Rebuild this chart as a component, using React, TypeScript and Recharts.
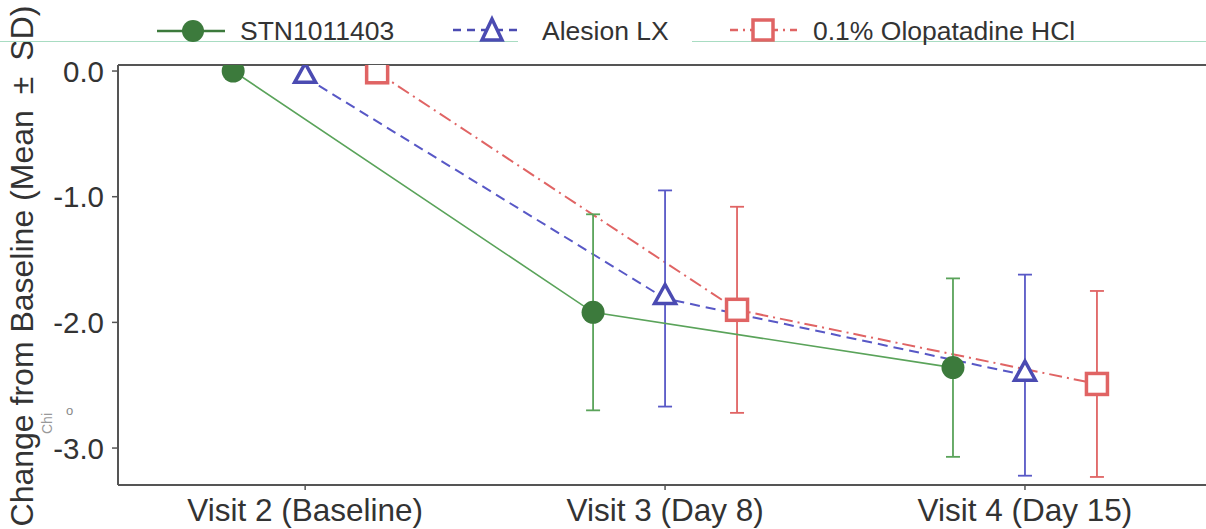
import { LineChart, Line, XAxis, YAxis, ErrorBar, ReferenceLine } from 'recharts';

const FONT = '"Liberation Sans", Arial, Helvetica, sans-serif';

// categories and dodge offsets
const visits = ['Visit 2 (Baseline)', 'Visit 3 (Day 8)', 'Visit 4 (Day 15)'];
const visitPos = [1, 2, 3];

// mean change from baseline and SD
const stnMean = [0, -1.92, -2.36];
const stnSd = [null, 0.78, 0.71];
const alesionMean = [-0.05, -1.81, -2.42];
const alesionSd = [null, 0.86, 0.8];
const olopMean = [-0.01, -1.9, -2.49];
const olopSd = [null, 0.82, 0.74];

const yTicks = [0, -1, -2, -3];

const toRows = (mean: number[], sd: (number | null)[], offset: number) =>
    visitPos.map((v, i) => ({ x: v + offset, y: mean[i], err: sd[i] }));

const stnData = toRows(stnMean, stnSd, -0.2);
const alesionData = toRows(alesionMean, alesionSd, 0);
const olopData = toRows(olopMean, olopSd, 0.2);

const GREEN = '#3c7a3c';
const GREEN_LINE = '#5aa35a';
const BLUE = '#4b4bb2';
const BLUE_LINE = '#5858c6';
const RED = '#e06464';

const CircleDot = (p: any) => (
    <circle key={`c${p.index}`} cx={p.cx} cy={p.cy} r={11.5} fill={GREEN} stroke="none" />
);

const TriDot = (p: any) => (
    <path
        key={`t${p.index}`}
        d={`M${p.cx},${p.cy - 14} L${p.cx - 10.5},${p.cy + 5} L${p.cx + 10.5},${p.cy + 5} Z`}
        fill="#fff"
        stroke={BLUE}
        strokeWidth={3.5}
        strokeLinejoin="miter"
    />
);

const SquareDot = (p: any) => (
    <rect
        key={`s${p.index}`}
        x={p.cx - 10.5}
        y={p.cy - 10.5}
        width={21}
        height={21}
        fill="#fff"
        stroke={RED}
        strokeWidth={3.5}
    />
);

const YLabel = ({ viewBox }: any) => {
    const x = viewBox.x + 22;
    const y = viewBox.y + viewBox.height / 2 - 9;
    return (
        <text
            x={x}
            y={y}
            transform={`rotate(-90, ${x}, ${y})`}
            textAnchor="middle"
            dominantBaseline="central"
            fontSize={32}
            fill="#333"
            fontFamily={FONT}
        >
            {'Change from Baseline (Mean\u2002±\u2002SD)'}
        </text>
    );
};

function LegendOverlay() {
    const txt = { fontSize: 26.5, fill: '#333', fontFamily: FONT };
    return (
        <svg width={1206} height={60} style={{ position: 'absolute', left: 0, top: 0 }}>
            {/* faint rule behind the legend */}
            <line x1={0} y1={41.5} x2={518} y2={41.5} stroke="#a8dcc2" strokeWidth={1} />
            <line x1={692} y1={41.5} x2={1206} y2={41.5} stroke="#a8dcc2" strokeWidth={1} />

            <line x1={157} y1={31} x2={225} y2={31} stroke={GREEN} strokeWidth={2.5} />
            <circle cx={193} cy={31} r={11} fill={GREEN} />
            <text x={240} y={31} dominantBaseline="central" {...txt}>STN1011403</text>

            <line x1={453} y1={30} x2={520} y2={30} stroke={BLUE} strokeWidth={2.5} strokeDasharray="8 6" />
            <path d="M492,19 L482,40 L502,40 Z" fill="#fff" stroke={BLUE} strokeWidth={3.5} />
            <text x={542} y={31} dominantBaseline="central" {...txt}>Alesion LX</text>

            <line x1={730} y1={30} x2={797} y2={30} stroke={RED} strokeWidth={2.5} strokeDasharray="8 5 2 5" />
            <rect x={753} y={20} width={20} height={20} fill="#fff" stroke={RED} strokeWidth={3.5} />
            <text x={813} y={31} dominantBaseline="central" {...txt}>0.1% Olopatadine HCl</text>
        </svg>
    );
}

export default function App() {
    return (
        <div style={{ position: 'absolute', left: 0, top: 0, width: 1206, height: 529, background: '#fff' }}>
            <LineChart
                width={1206}
                height={529}
                margin={{ top: 65, right: 0, bottom: 0, left: 0 }}
            >
                <XAxis
                    type="number"
                    dataKey="x"
                    domain={[0.48, 3.503]}
                    ticks={visitPos}
                    interval={0}
                    allowDataOverflow
                    height={44}
                    tickFormatter={(v: number) => visits[Math.round(v) - 1]}
                    axisLine={{ stroke: '#555', strokeWidth: 2 }}
                    tickLine={{ stroke: '#555', strokeWidth: 1.5 }}
                    tickSize={5}
                    tickMargin={9}
                    tick={{ fill: '#333', fontSize: 31.5, fontFamily: FONT }}
                />
                <YAxis
                    type="number"
                    domain={[-3.294, 0.048]}
                    ticks={yTicks}
                    allowDataOverflow
                    width={118}
                    tickFormatter={(v: number) => v.toFixed(1)}
                    axisLine={{ stroke: '#555', strokeWidth: 2 }}
                    tickLine={{ stroke: '#555', strokeWidth: 1.5 }}
                    tickSize={6}
                    tickMargin={8}
                    tick={{ fill: '#333', fontSize: 29.5, fontFamily: FONT }}
                    label={<YLabel />}
                />
                <ReferenceLine y={0.048} stroke="#555" strokeWidth={2} />

                <Line
                    data={olopData}
                    dataKey="y"
                    stroke={RED}
                    strokeWidth={2}
                    strokeDasharray="13 5 2 5"
                    dot={SquareDot}
                    activeDot={false}
                    isAnimationActive={false}
                >
                    <ErrorBar dataKey="err" width={7} stroke={RED} strokeWidth={1.8} />
                </Line>
                <Line
                    data={alesionData}
                    dataKey="y"
                    stroke={BLUE_LINE}
                    strokeWidth={2}
                    strokeDasharray="10 6"
                    dot={TriDot}
                    activeDot={false}
                    isAnimationActive={false}
                >
                    <ErrorBar dataKey="err" width={7} stroke={BLUE_LINE} strokeWidth={1.8} />
                </Line>
                <Line
                    data={stnData}
                    dataKey="y"
                    stroke={GREEN_LINE}
                    strokeWidth={1.6}
                    dot={CircleDot}
                    activeDot={false}
                    isAnimationActive={false}
                >
                    <ErrorBar dataKey="err" width={7} stroke={GREEN_LINE} strokeWidth={1.8} />
                </Line>
            </LineChart>
            <LegendOverlay />
            {/* small stray glyphs near the y-axis title */}
            <span style={{ position: 'absolute', left: 40, top: 434, fontSize: 14, color: '#999', fontFamily: FONT, transform: 'rotate(-90deg)', transformOrigin: 'left top', display: 'inline-block', lineHeight: 1 }}>Chi</span>
            <span style={{ position: 'absolute', left: 66, top: 404, fontSize: 13, color: '#888', fontFamily: FONT, lineHeight: 1 }}>o</span>
        </div>
    );
}
